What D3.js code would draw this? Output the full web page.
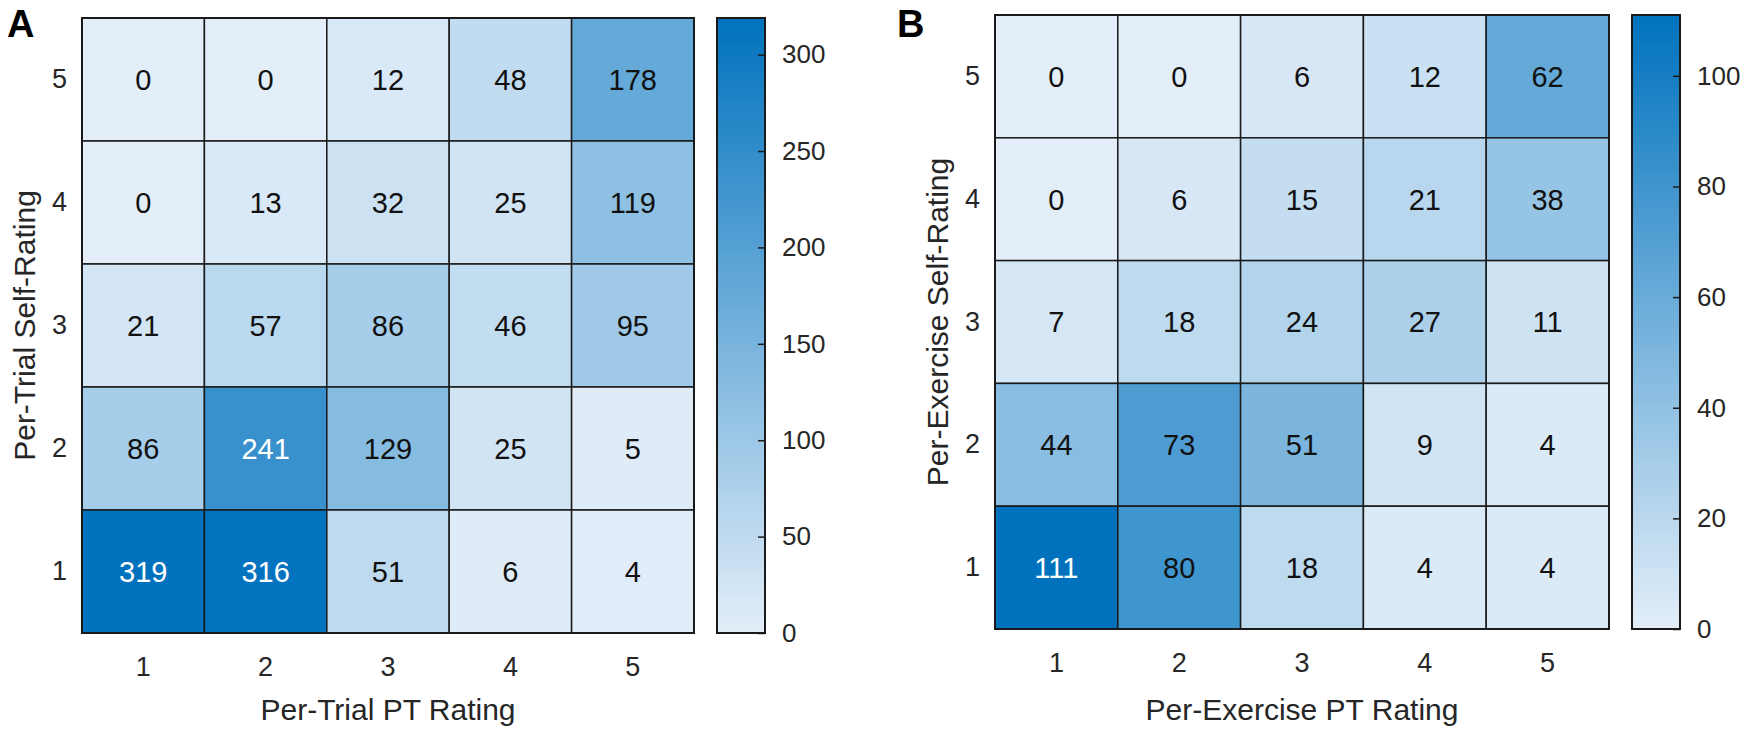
<!DOCTYPE html>
<html>
<head>
<meta charset="utf-8">
<script src="https://cdn.jsdelivr.net/npm/d3@7/dist/d3.min.js"></script>
<style>
  html, body { margin: 0; padding: 0; background: #fff; }
  svg { display: block; font-family: "Liberation Sans", Arial, Helvetica, sans-serif; }
</style>
</head>
<body>
<svg id="chart" width="1750" height="737"></svg>
<script>
// ---------- data ----------
const ptRatings = [1, 2, 3, 4, 5];          // x categories
const selfRatings = [5, 4, 3, 2, 1];        // y categories (top to bottom)

// Panel A: per-trial counts, rows = self-rating 5..1, cols = PT rating 1..5
const trialCounts = [
  [0, 0, 12, 48, 178],
  [0, 13, 32, 25, 119],
  [21, 57, 86, 46, 95],
  [86, 241, 129, 25, 5],
  [319, 316, 51, 6, 4]
];
// Panel B: per-exercise counts
const exerciseCounts = [
  [0, 0, 6, 12, 62],
  [0, 6, 15, 21, 38],
  [7, 18, 24, 27, 11],
  [44, 73, 51, 9, 4],
  [111, 80, 18, 4, 4]
];
const trialTicks = [0, 50, 100, 150, 200, 250, 300];
const exerciseTicks = [0, 20, 40, 60, 80, 100];

const panels = [
  { letter: "A", counts: trialCounts, ticks: trialTicks,
    xLabel: "Per-Trial PT Rating", yLabel: "Per-Trial Self-Rating",
    left: 82, right: 694, top: 18, bottom: 633, cbLeft: 717, letterX: 7 },
  { letter: "B", counts: exerciseCounts, ticks: exerciseTicks,
    xLabel: "Per-Exercise PT Rating", yLabel: "Per-Exercise Self-Rating",
    left: 995, right: 1609, top: 15, bottom: 629, cbLeft: 1632, letterX: 897 }
];

const lightC = d3.rgb(227, 238, 249);
const darkC = d3.rgb(0, 114, 189);
const svg = d3.select("#chart");
const defs = svg.append("defs");

panels.forEach((p, pi) => {
  const flat = p.counts.flat();
  const vmin = d3.min(flat), vmax = d3.max(flat);
  const color = d3.scaleLinear().domain([vmin, vmax]).range([lightC, darkC]).interpolate(d3.interpolateRgb);

  const x = d3.scaleBand().domain(ptRatings).range([p.left, p.right]);
  const y = d3.scaleBand().domain(selfRatings).range([p.top, p.bottom]);

  const g = svg.append("g");
  const cells = [];
  p.counts.forEach((row, ri) => row.forEach((v, ci) => cells.push({ r: selfRatings[ri], c: ptRatings[ci], v })));

  g.selectAll("rect.cell").data(cells).enter().append("rect")
    .attr("class", "cell")
    .attr("x", d => x(d.c)).attr("y", d => y(d.r))
    .attr("width", x.bandwidth()).attr("height", y.bandwidth())
    .attr("fill", d => color(d.v))
    .attr("stroke", "#1a1a1a").attr("stroke-width", 1.5);

  g.selectAll("text.val").data(cells).enter().append("text")
    .attr("class", "val")
    .attr("x", d => x(d.c) + x.bandwidth() / 2)
    .attr("y", d => y(d.r) + y.bandwidth() / 2)
    .attr("dy", "0.36em")
    .attr("text-anchor", "middle")
    .attr("font-size", 29)
    .attr("fill", d => {
      const c = d3.rgb(color(d.v));
      const lum = 0.299 * c.r + 0.587 * c.g + 0.114 * c.b;
      return lum < 127.5 ? "#ffffff" : "#111111";
    })
    .text(d => d.v);

  // outer border
  g.append("rect").attr("x", p.left).attr("y", p.top)
    .attr("width", p.right - p.left).attr("height", p.bottom - p.top)
    .attr("fill", "none").attr("stroke", "#1a1a1a").attr("stroke-width", 2);

  // axes
  const xAxis = svg.append("g").attr("transform", `translate(0,${p.bottom})`)
    .call(d3.axisBottom(x).tickSize(0).tickPadding(24));
  const yAxis = svg.append("g").attr("transform", `translate(${p.left},0)`)
    .call(d3.axisLeft(y).tickSize(0).tickPadding(15));
  [xAxis, yAxis].forEach(a => {
    a.select(".domain").remove();
    a.selectAll("text").attr("font-size", 27).attr("fill", "#262626")
      .attr("font-family", "'Liberation Sans', Arial, sans-serif");
  });

  // axis labels
  svg.append("text")
    .attr("x", (p.left + p.right) / 2).attr("y", 720)
    .attr("text-anchor", "middle").attr("font-size", 30).attr("fill", "#262626")
    .text(p.xLabel);
  svg.append("text")
    .attr("transform", `translate(${p.left - 47},${(p.top + p.bottom) / 2}) rotate(-90)`)
    .attr("text-anchor", "middle").attr("font-size", 30).attr("fill", "#262626")
    .text(p.yLabel);

  // panel letter
  svg.append("text")
    .attr("x", p.letterX).attr("y", 37)
    .attr("font-size", 38).attr("font-weight", "bold").attr("fill", "#000")
    .text(p.letter);

  // colorbar
  const cbW = 48;
  const cbScale = d3.scaleLinear().domain([vmin, vmax]).range([p.bottom, p.top]);
  const gradId = "grad" + pi;
  const grad = defs.append("linearGradient").attr("id", gradId)
    .attr("x1", 0).attr("y1", 1).attr("x2", 0).attr("y2", 0);
  d3.range(0, 1.0001, 0.05).forEach(t => {
    grad.append("stop").attr("offset", t).attr("stop-color", color(vmin + t * (vmax - vmin)));
  });
  svg.append("rect").attr("x", p.cbLeft).attr("y", p.top)
    .attr("width", cbW).attr("height", p.bottom - p.top)
    .attr("fill", `url(#${gradId})`).attr("stroke", "#1a1a1a").attr("stroke-width", 2);

  const cbAxis = svg.append("g").attr("transform", `translate(${p.cbLeft + cbW},0)`)
    .call(d3.axisRight(cbScale).tickValues(p.ticks).tickSize(-7).tickPadding(17));
  cbAxis.select(".domain").remove();
  cbAxis.selectAll("line").attr("stroke", "#1a1a1a").attr("stroke-width", 1.5);
  cbAxis.selectAll("text").attr("font-size", 26).attr("fill", "#262626")
    .attr("font-family", "'Liberation Sans', Arial, sans-serif");
});
</script>
</body>
</html>
